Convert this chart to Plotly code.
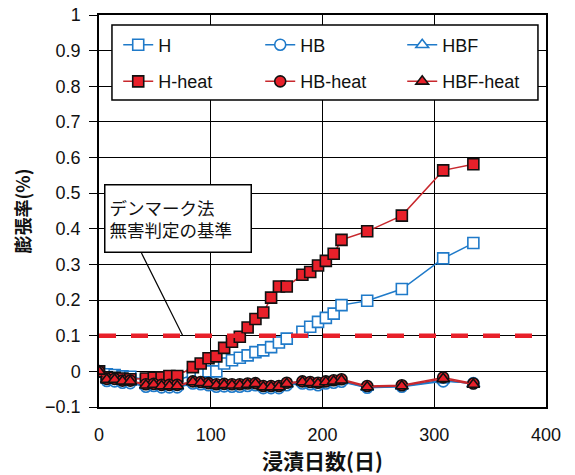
import plotly.graph_objects as go

# ---- data ----
days = [0, 7, 14, 21, 28, 42, 49, 56, 63, 70, 84, 91, 98, 105, 112, 119, 126,
        133, 140, 147, 154, 161, 168, 182, 189, 196, 203, 210, 217, 240, 271, 308, 335]

H = [0.000, -0.008, -0.010, -0.014, -0.015, -0.025, -0.028, -0.028, -0.026, -0.025,
     -0.010, -0.003, 0.000, 0.000, 0.022, 0.031, 0.038, 0.045, 0.054, 0.059, 0.068,
     0.081, 0.092, 0.111, 0.125, 0.139, 0.150, 0.162, 0.186, 0.198, 0.231, 0.317, 0.360]

HB = [0.000, -0.027, -0.028, -0.032, -0.033, -0.043, -0.041, -0.045, -0.045, -0.045,
      -0.034, -0.036, -0.039, -0.043, -0.042, -0.043, -0.043, -0.041, -0.039, -0.047,
      -0.047, -0.047, -0.039, -0.034, -0.036, -0.039, -0.034, -0.032, -0.029, -0.046,
      -0.043, -0.028, -0.033]

HBF = [0.000, -0.025, -0.026, -0.030, -0.031, -0.041, -0.040, -0.043, -0.043, -0.043,
       -0.032, -0.034, -0.037, -0.041, -0.040, -0.041, -0.041, -0.039, -0.037, -0.045,
       -0.045, -0.045, -0.037, -0.032, -0.034, -0.037, -0.032, -0.030, -0.027, -0.045,
       -0.042, -0.025, -0.035]

H_heat = [0.000, -0.017, -0.018, -0.020, -0.022, -0.020, -0.018, -0.017, -0.013, -0.013,
          0.012, 0.022, 0.037, 0.042, 0.066, 0.083, 0.097, 0.123, 0.147, 0.165, 0.207,
          0.238, 0.238, 0.271, 0.279, 0.297, 0.310, 0.330, 0.369, 0.393, 0.437, 0.564, 0.581]

HB_heat = [0.000, -0.021, -0.021, -0.026, -0.026, -0.036, -0.035, -0.038, -0.038, -0.038,
           -0.028, -0.030, -0.033, -0.036, -0.035, -0.036, -0.036, -0.034, -0.033, -0.041,
           -0.041, -0.041, -0.032, -0.028, -0.030, -0.032, -0.028, -0.025, -0.022, -0.041,
           -0.039, -0.017, -0.034]

HBF_heat = [0.000, -0.023, -0.023, -0.028, -0.028, -0.039, -0.037, -0.041, -0.041, -0.041,
            -0.030, -0.032, -0.035, -0.039, -0.038, -0.039, -0.039, -0.037, -0.035, -0.044,
            -0.044, -0.044, -0.035, -0.030, -0.032, -0.035, -0.030, -0.028, -0.025, -0.044,
            -0.041, -0.021, -0.037]

threshold = 0.1
x_ticks = [0, 100, 200, 300, 400]
y_ticks = [-0.1, 0, 0.1, 0.2, 0.3, 0.4, 0.5, 0.6, 0.7, 0.8, 0.9, 1.0]
y_ticktext = ["−0.1", "0", "0.1", "0.2", "0.3", "0.4", "0.5", "0.6", "0.7", "0.8", "0.9", "1"]
note_text = "デンマーク法<br>無害判定の基準"
x_title = "<b>浸漬日数(日)</b>"
y_title = "<b>膨張率(%)</b>"

# ---- styling ----
BLUE = "#1f7ac9"
RED = "#e8202a"
REDLINE = "#c8282d"
LATIN = "Liberation Sans, Arial, Noto Sans CJK JP"
CJK = "Noto Sans CJK JP, Liberation Sans"

fig = go.Figure()

series = [
    ("H", H, "square", BLUE, None, "legend"),
    ("HB", HB, "circle", BLUE, None, "legend"),
    ("HBF", HBF, "triangle-up", BLUE, None, "legend"),
    ("H-heat", H_heat, "square", REDLINE, RED, "legend2"),
    ("HB-heat", HB_heat, "circle", REDLINE, RED, "legend2"),
    ("HBF-heat", HBF_heat, "triangle-up", REDLINE, RED, "legend2"),
]

for name, vals, sym, lc, fc, leg in series:
    if fc is None:
        marker = dict(symbol=sym, size=11, color="white", line=dict(color=lc, width=1.6))
    else:
        marker = dict(symbol=sym, size=11, color=fc, line=dict(color="#111111", width=1.6))
    fig.add_trace(go.Scatter(x=days, y=vals, name=name, mode="lines+markers",
                             line=dict(color=lc, width=1.5), marker=marker,
                             legend=leg))

# threshold dashed line
fig.add_shape(type="line", xref="x", yref="y", x0=0, x1=400, y0=threshold, y1=threshold,
              line=dict(color=RED, width=4.5, dash="17px,15px"), layer="above")

# leader line from note box to threshold
fig.add_shape(type="line", xref="x", yref="y", x0=38, y0=0.332, x1=75, y1=threshold,
              line=dict(color="black", width=1.2), layer="above")

# note box
fig.add_annotation(x=71, y=0.428, xref="x", yref="y", text=note_text, showarrow=False,
                   align="left", font=dict(family=CJK, size=17.5, color="#111111"),
                   bgcolor="white", bordercolor="black", borderwidth=1.5, borderpad=4,
                   width=137, height=58)

# legend frame
fig.add_shape(type="rect", xref="paper", yref="paper", x0=0.029, x1=0.982, y0=0.783, y1=0.9745,
              line=dict(color="black", width=1.5), fillcolor="white", layer="above")

axis_common = dict(showgrid=True, gridcolor="black", gridwidth=1.3, showline=True,
                   linecolor="black", linewidth=1.5, mirror=True, zeroline=False,
                   automargin=False, ticklabeloverflow="allow",
                   tickfont=dict(family=LATIN, size=18, color="#111111"))

fig.update_layout(
    width=575, height=475,
    margin=dict(l=91, r=37, t=7, b=76, autoexpand=False),
    paper_bgcolor="white", plot_bgcolor="white",
    showlegend=True,
    legend=dict(orientation="h", x=0.043, y=0.9235, xanchor="left", yanchor="middle",
                bgcolor="rgba(0,0,0,0)", borderwidth=0, entrywidth=97,
                entrywidthmode="pixels", font=dict(family=LATIN, size=18, color="#111111")),
    legend2=dict(orientation="h", x=0.043, y=0.830, xanchor="left", yanchor="middle",
                 bgcolor="rgba(0,0,0,0)", borderwidth=0, entrywidth=97,
                 entrywidthmode="pixels", font=dict(family=LATIN, size=18, color="#111111")),
    xaxis=dict(range=[0, 400], tickvals=x_ticks, ticks="", ticklabelstandoff=11,
               title=dict(text=x_title, font=dict(family=CJK, size=21, color="#111111"), standoff=5),
               **axis_common),
    yaxis=dict(range=[-0.1, 1.0], tickvals=y_ticks, ticktext=y_ticktext, ticks="outside",
               ticklen=8, tickcolor="black", tickwidth=1.3, ticklabelstandoff=5,
               title=dict(text=y_title, font=dict(family=CJK, size=18, color="#111111"), standoff=10),
               **axis_common),
)

fig.write_html("out.html")
